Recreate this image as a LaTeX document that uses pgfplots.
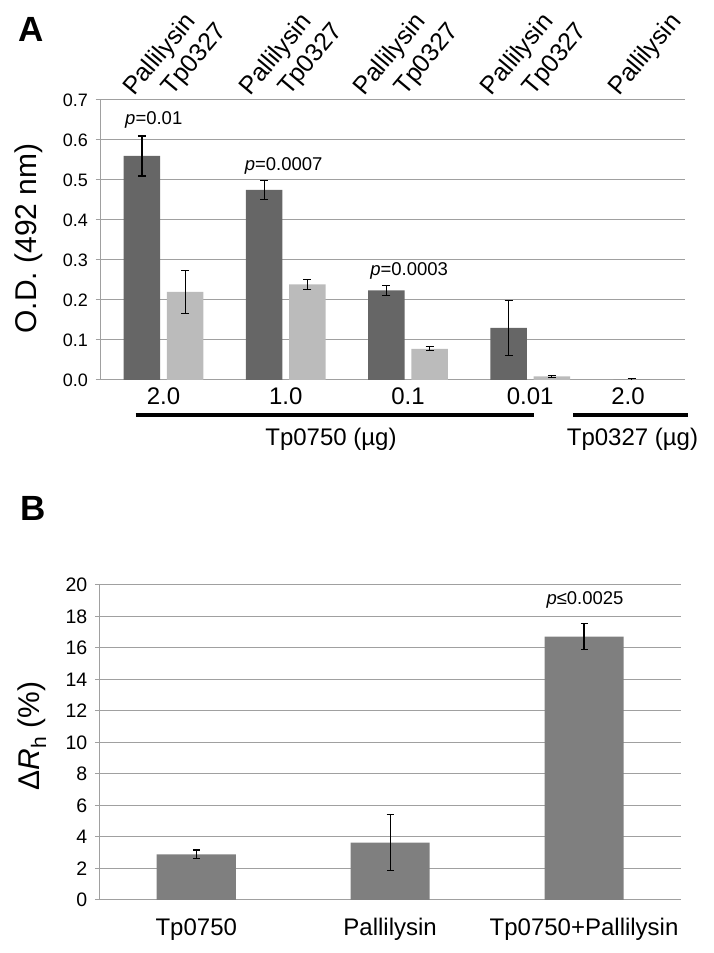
\documentclass[border=0pt]{standalone}
\usepackage{pgfplots}
\pgfplotsset{compat=1.18}
\usepackage{pgfplotstable}
\usepackage{fontspec}
\setmainfont{Liberation Sans}
\definecolor{darkbar}{HTML}{666666}
\definecolor{lightbar}{HTML}{BBBBBB}
\definecolor{midbar}{HTML}{7F7F7F}
\definecolor{gridc}{HTML}{A0A0A0}
\newcommand{\fs}[1]{\fontsize{#1}{#1}\selectfont}

% Panel A: Pallilysin (dark) and Tp0327 (light); x = group position -/+ 0.177
\pgfplotstableread{
x y e
-0.177 0.56 0.05
0.823 0.475 0.023
1.823 0.224 0.012
2.823 0.13 0.068
}\palA
\pgfplotstableread{
x y e
0.177 0.22 0.053
1.177 0.239 0.012
2.177 0.078 0.005
3.177 0.009 0.002
}\tpA
\pgfplotstableread{
x y e
3.83 0.0 0.004
}\lastA
% Panel B
\pgfplotstableread{
x y e
0 2.9 0.28
1 3.65 1.8
2 16.72 0.82
}\dataB

\pgfplotsset{
  errstyle/.style={error bars/.cd, y dir=both, y explicit,
    error bar style={black, line width=1.2bp},
    error mark options={rotate=90, mark size=#1, black, line width=1.2bp}},
}
\tikzset{
  toplab/.style={rotate=50, anchor=base west, inner sep=0pt, font=\fs{25bp}, yshift=5bp},
}

\begin{document}
\begin{tikzpicture}[x=1bp,y=1bp]
\useasboundingbox (0,0) rectangle (714,953);

% ---------------- Panel A ----------------
\begin{axis}[
  at={(100bp,573bp)}, anchor=south west,
  scale only axis, width=585bp, height=280bp,
  xmin=-0.52, xmax=4.267, ymin=0, ymax=0.7,
  clip=false,
  axis lines*=left,
  axis line style={gridc, line width=1bp},
  ymajorgrids, grid style={gridc, line width=1bp},
  ytick={0,0.1,0.2,0.3,0.4,0.5,0.6,0.7},
  xtick={0,1,2,3,3.8},
  xticklabels={2.0,1.0,0.1,0.01,2.0},
  tick align=outside, major tick length=4.5bp,
  ytick style={gridc, line width=1bp},
  xtick style={draw=none},
  /pgf/number format/assume math mode=true,
  y tick label style={font=\fs{18bp}, xshift=-4bp, /pgf/number format/fixed, /pgf/number format/fixed zerofill, /pgf/number format/precision=1},
  x tick label style={font=\fs{24bp}},
]
\addplot[ybar, bar width=0.298, bar shift=0, fill=darkbar, draw=none, errstyle=4bp]
  table[x=x, y=y, y error=e]{\palA};
\addplot[ybar, bar width=0.298, bar shift=0, fill=lightbar, draw=none, errstyle=4bp]
  table[x=x, y=y, y error=e]{\tpA};
\addplot[ybar, bar width=0.298, bar shift=0, fill=darkbar, draw=none, error bars/.cd, y dir=plus, y explicit,
    error bar style={black, line width=1.2bp},
    error mark options={rotate=90, mark size=4bp, black, line width=1.2bp}]
  table[x=x, y=y, y error=e]{\lastA};

\node[font=\fs{18.5bp}] at (axis cs:-0.08,0.65) {\textit{p}=0.01};
\node[font=\fs{18.5bp}] at (axis cs:0.983,0.536) {\textit{p}=0.0007};
\node[font=\fs{18.5bp}] at (axis cs:2.01,0.273) {\textit{p}=0.0003};

\node[toplab] at (axis cs:-0.21,0.7) {Pallilysin};
\node[toplab] at (axis cs:0.106,0.7) {Tp0327};
\node[toplab] at (axis cs:0.741,0.7) {Pallilysin};
\node[toplab] at (axis cs:1.057,0.7) {Tp0327};
\node[toplab] at (axis cs:1.673,0.7) {Pallilysin};
\node[toplab] at (axis cs:2.008,0.7) {Tp0327};
\node[toplab] at (axis cs:2.717,0.7) {Pallilysin};
\node[toplab] at (axis cs:3.056,0.7) {Tp0327};
\node[toplab] at (axis cs:3.761,0.7) {Pallilysin};
\end{axis}

\draw[line width=3.4bp] (135.7,538) -- (534,538);
\draw[line width=3.4bp] (573,538) -- (688,538);
\node[font=\fs{24bp}] at (331,514) {Tp0750 (µg)};
\node[font=\fs{24bp}] at (632.5,514) {Tp0327 (µg)};

\node[font=\fs{35bp}\bfseries] at (31,923.5) {A};
\node[rotate=90, font=\fs{30bp}] at (28.5,714.5) {O.D. (492 nm)};

% ---------------- Panel B ----------------
\begin{axis}[
  at={(99.3bp,53bp)}, anchor=south west,
  scale only axis, width=581.7bp, height=315bp,
  xmin=-0.5, xmax=2.5, ymin=0, ymax=20,
  clip=false,
  axis lines*=left,
  axis line style={gridc, line width=1bp},
  ymajorgrids, grid style={gridc, line width=1bp},
  ytick={0,2,4,6,8,10,12,14,16,18,20},
  xtick={0,1,2},
  xticklabels={Tp0750,Pallilysin,Tp0750+Pallilysin},
  tick align=outside, major tick length=4.5bp,
  ytick style={gridc, line width=1bp},
  xtick style={draw=none},
  /pgf/number format/assume math mode=true,
  y tick label style={font=\fs{19.5bp}, xshift=-4bp},
  x tick label style={font=\fs{24bp}, text height=17.5bp, text depth=5bp, yshift=-10bp},
]
\addplot[ybar, bar width=0.408, bar shift=0, fill=midbar, draw=none, errstyle=3.5bp]
  table[x=x, y=y, y error=e]{\dataB};
\node[font=\fs{18.5bp}] at (axis cs:2.005,19.05) {\textit{p}≤0.0025};
\end{axis}

\node[font=\fs{35bp}\bfseries] at (33,445) {B};
\node[rotate=90, font=\fs{30bp}] at (32,217) {Δ\textit{R}\textsubscript{h} (\%)};
\end{tikzpicture}
\end{document}
